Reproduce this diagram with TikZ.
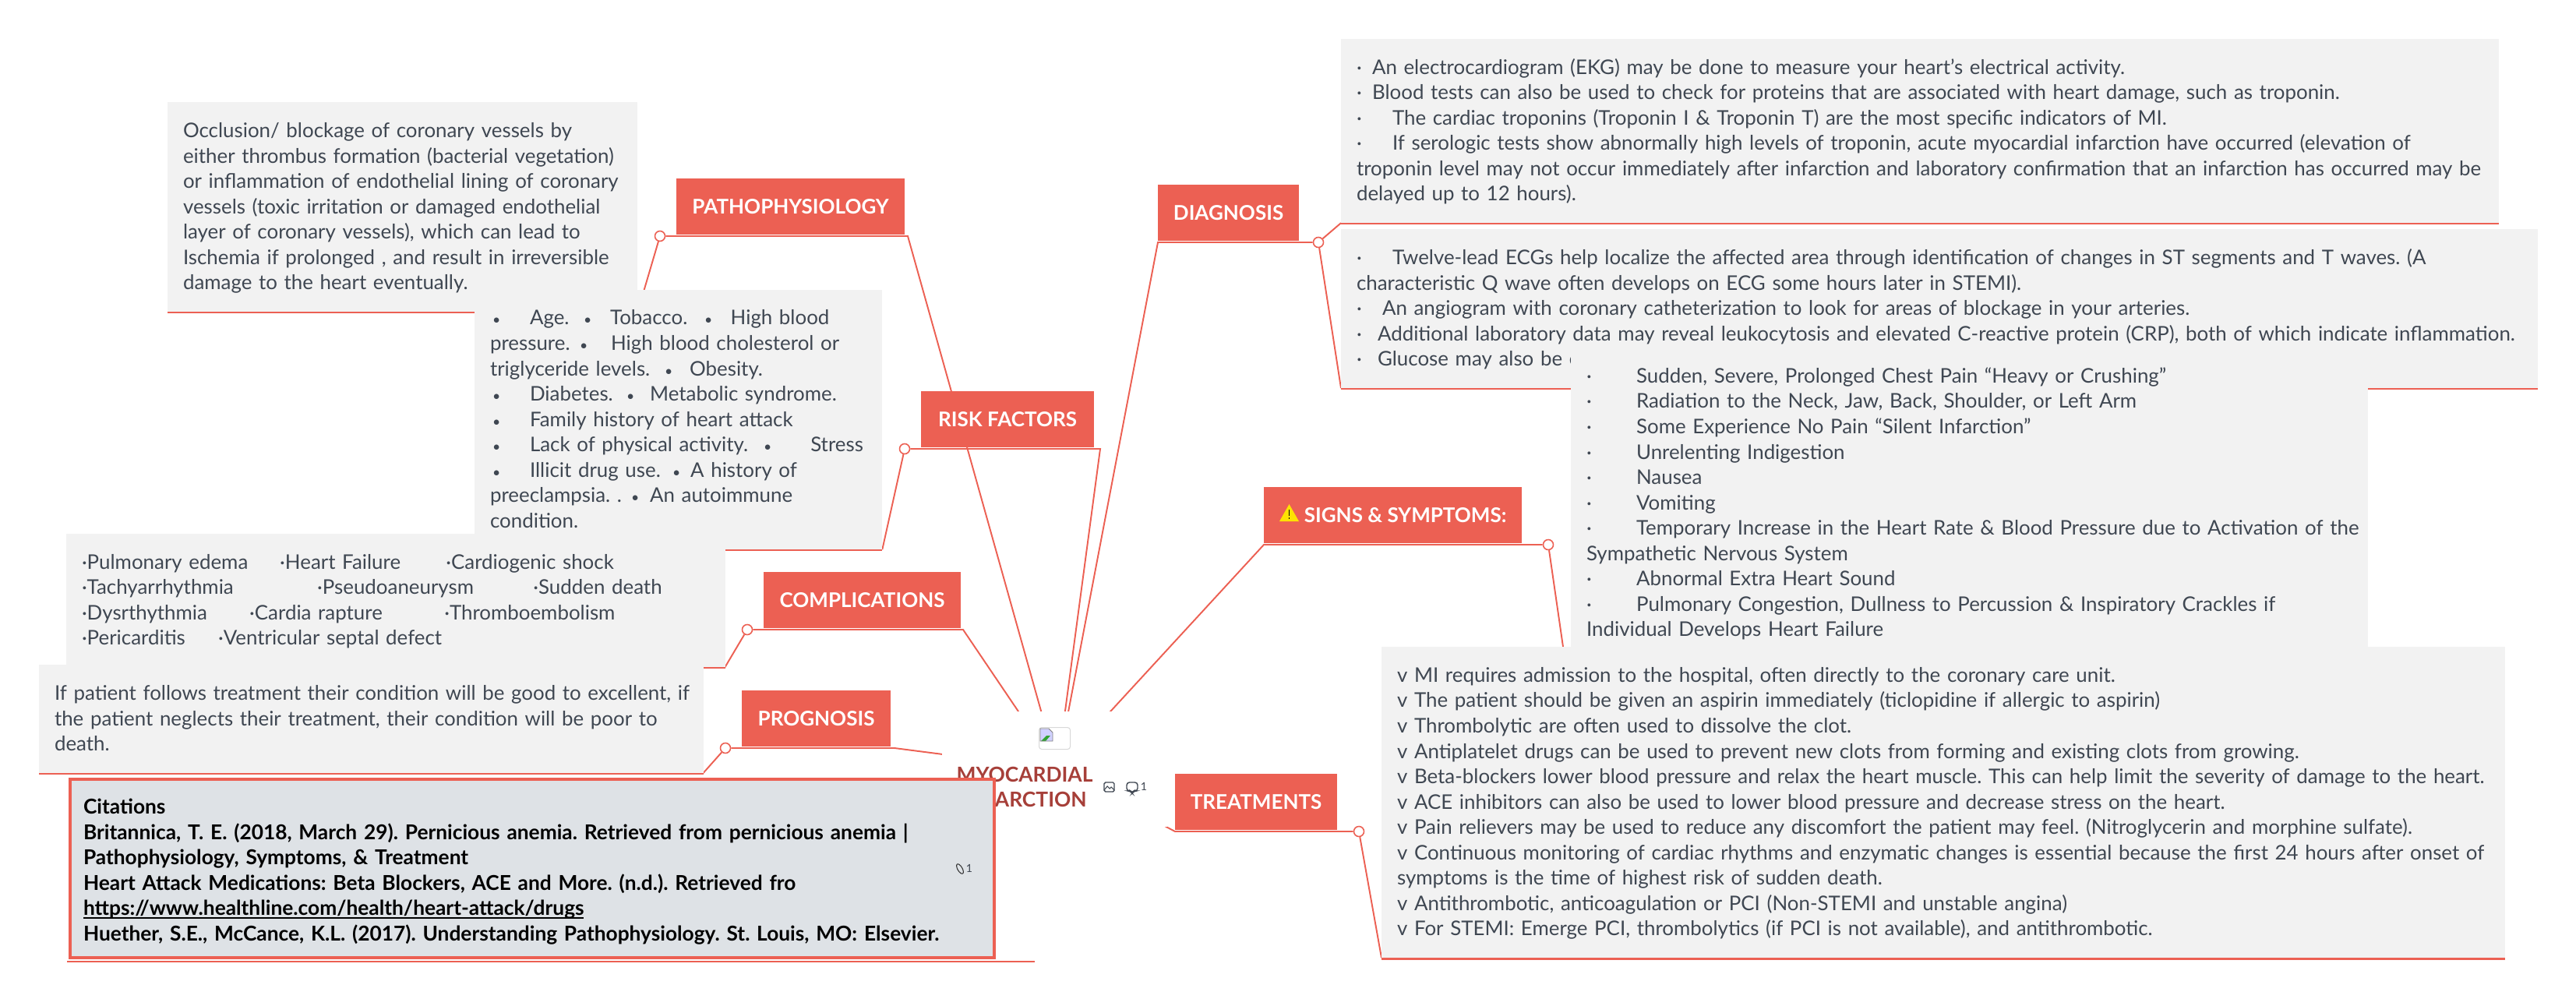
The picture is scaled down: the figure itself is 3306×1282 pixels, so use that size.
\documentclass[tikz,border=0pt]{standalone}
\usepackage{fontspec}
\setmainfont{Lato}
\frenchspacing
\usetikzlibrary{
  positioning,
  backgrounds,
}
\definecolor{coral}{HTML}{EC6053}
\definecolor{wash}{HTML}{F2F2F2}
\definecolor{ink}{HTML}{3F4752}
\definecolor{brick}{HTML}{A63F39}
\definecolor{steel}{HTML}{DEE2E6}
\newcommand{\putat}[2]{\makebox[0pt][l]{\hspace*{#1cm}#2}}
\newcommand{\pip}{{\fontsize{5}{5}\selectfont•}}
\newcommand{\headstrut}{\rule{0pt}{7.6pt}}
\newcommand{\citestrut}{\rule{0pt}{9.3pt}}
\newlength{\linkwidth}
\newcommand{\linktext}[1]{\settowidth{\linkwidth}{#1}\leavevmode\rlap{\rule[-1.3pt]{\linkwidth}{0.55pt}}#1}
\tikzset{
  bodyfont/.style={font=\fontsize{7.36}{9.25}\selectfont},
  textbox/.style 2 args={
    anchor=north west,
    fill=wash,
    text=ink,
    bodyfont,
    align=left,
    inner xsep=0.2cm,
    inner ysep=0,
    outer sep=0,
    minimum width=#1cm,
    minimum height=#2cm,
    text width=#1cm-0.4cm,
    execute at begin node=\headstrut,
    execute at end node=\strut,
  },
  topic/.style 2 args={
    anchor=north west,
    fill=coral,
    text=white,
    font=\fontsize{7.4}{9}\selectfont\bfseries,
    inner sep=0,
    outer sep=0,
    minimum width=#1cm,
    minimum height=#2cm,
  },
  joint/.style={
    circle,
    draw=coral,
    fill=white,
    line width=0.45pt,
    minimum size=0.13cm,
    inner sep=0,
  },
  link/.style={draw=coral, line width=0.55pt},
  under/.style={draw=coral, line width=1.3pt},
  tiny/.style={font=\fontsize{4}{5}\selectfont, text=ink, inner sep=0},
}
\begin{document}
\begin{tikzpicture}[x=0.01cm,y=-0.01cm]
  \useasboundingbox (0,0) rectangle (3306,1282);

  % hub
  \coordinate (hub) at (1357,987);
  \node[fill=white, inner sep=0, outer sep=0, anchor=north west, minimum width=2.89cm, minimum height=1.48cm] (hubback) at (1209,913) {};
  \node[fill=white, draw=gray!30, line width=0.3pt, rounded corners=1pt, anchor=north west, inner sep=0, minimum width=0.40cm, minimum height=0.28cm] (hubimage) at (1333,933) {};
  \fill[blue!18] (1335,935) -- (1346,935) -- (1351,940) -- (1351,951) -- (1335,951) -- cycle;
  \fill[green!55!black!80] (1336,951) -- (1343,944) -- (1348,944) -- (1342,951) -- cycle;
  \draw[gray, line width=0.25pt] (1335,935) -- (1346,935) -- (1351,940) -- (1351,951) -- (1335,951) -- cycle;
  \node[font=\fontsize{7.5}{9.35}\selectfont\bfseries, text=brick, align=center, inner sep=0] (hubtitle) at (1315,1010) {MYOCARDIAL\\INFARCTION};
  \draw[ink, line width=0.4pt, rounded corners=0.5pt] (1417,1004) rectangle (1430,1016);
  \draw[ink, line width=0.3pt] (1417,1014) -- (1421,1009) -- (1424,1012) -- (1426,1010) -- (1430,1014);
  \draw[ink, line width=0.4pt, rounded corners=1pt] (1446,1004) -- (1460,1004) -- (1460,1015) -- (1455,1015) -- (1453,1018) -- (1451,1015) -- (1446,1015) -- cycle;
  \node[tiny] (hubcount) at (1468,1009) {1};

  % pathophysiology
  \node[textbox={6.03}{2.69}] (pathotext) at (215,131) {Occlusion/ blockage of coronary vessels by\\either thrombus formation (bacterial vegetation)\\or inflammation of endothelial lining of coronary\\vessels (toxic irritation or damaged endothelial\\layer of coronary vessels), which can lead to\\Ischemia if prolonged , and result in irreversible\\damage to the heart eventually.};
  \node[topic={2.93}{0.72}] (pathotopic) at (868,229) {PATHOPHYSIOLOGY};
  \node[joint] (pathojoint) at (847,303) {};
  \coordinate (pathoend) at (1165,303);

  % risk factors
  \node[textbox={5.23}{3.33}] (risktext) at (609,372) {%
    \putat{0.03}{\pip}\putat{0.51}{Age.}\putat{1.2}{\pip}\putat{1.54}{Tobacco.}\putat{2.75}{\pip}\putat{3.085}{High blood}\\
    \putat{0}{pressure.}\putat{1.15}{\pip}\putat{1.55}{High blood cholesterol or}\\
    \putat{0}{triglyceride levels.}\putat{2.24}{\pip}\putat{2.56}{Obesity.}\\
    \putat{0.03}{\pip}\putat{0.51}{Diabetes.}\putat{1.75}{\pip}\putat{2.05}{Metabolic syndrome.}\\
    \putat{0.03}{\pip}\putat{0.51}{Family history of heart attack}\\
    \putat{0.03}{\pip}\putat{0.51}{Lack of physical activity.}\putat{3.51}{\pip}\putat{4.11}{Stress}\\
    \putat{0.03}{\pip}\putat{0.51}{Illicit drug use.}\putat{2.34}{\pip}\putat{2.57}{A history of}\\
    \putat{0}{preeclampsia. .}\putat{1.81}{\pip}\putat{2.05}{An autoimmune}\\
    condition.};
  \node[topic={2.22}{0.72}] (risktopic) at (1182,502) {RISK FACTORS};
  \node[joint] (riskjoint) at (1161,576) {};
  \coordinate (riskend) at (1412,576);

  % complications
  \node[textbox={8.45}{1.71}] (comptext) at (85,685) {%
    \putat{0}{·Pulmonary edema}\putat{2.54}{·Heart Failure}\putat{4.67}{·Cardiogenic shock}\\
    \putat{0}{·Tachyarrhythmia}\putat{3.02}{·Pseudoaneurysm}\putat{5.79}{·Sudden death}\\
    \putat{0}{·Dysrthythmia}\putat{2.15}{·Cardia rapture}\putat{4.65}{·Thromboembolism}\\
    \putat{0}{·Pericarditis}\putat{1.75}{·Ventricular septal defect}};
  \node[topic={2.53}{0.72}] (comptopic) at (980,734) {COMPLICATIONS};
  \node[joint] (compjoint) at (959,808) {};
  \coordinate (compend) at (1236,808);

  % prognosis
  \node[textbox={8.52}{1.39}] (progtext) at (50,853) {\putat{0}{If patient follows treatment their condition will be good to excellent, if}\\the patient neglects their treatment, their condition will be poor to\\death.};
  \node[topic={1.91}{0.72}] (progtopic) at (952,886) {PROGNOSIS};
  \node[joint] (progjoint) at (931,960) {};
  \coordinate (progend) at (1148,960);

  % citations
  \node[anchor=north west, fill=steel, draw=coral, line width=1.15pt, text=black, align=left,
    font=\fontsize{7.48}{9.25}\selectfont\bfseries, inner xsep=0.17cm, inner ysep=0, outer sep=0,
    minimum width=11.85cm, minimum height=2.29cm, text width=11.51cm,
    execute at begin node=\citestrut, execute at end node=\strut] (citebox) at (90,1000)
    {Citations\\Britannica, T. E. (2018, March 29). Pernicious anemia. Retrieved from pernicious anemia |\\Pathophysiology, Symptoms, \& Treatment\\Heart Attack Medications: Beta Blockers, ACE and More. (n.d.). Retrieved fro\\\linktext{https://www.healthline.com/health/heart-attack/drugs}\\Huether, S.E., McCance, K.L. (2017). Understanding Pathophysiology. St. Louis, MO: Elsevier.};
  \coordinate (citestart) at (86,1234);
  \coordinate (citeend) at (1328,1234);
  \draw[black!80, line width=0.3pt, rotate around={30:(1232,1115)}] (1232,1115) ellipse (3 and 7);
  \node[tiny] (citecount) at (1244,1114) {1};

  % diagnosis
  \node[textbox={14.85}{2.36}] (diagtext) at (1721,50) {%
    \putat{0}{·}\putat{0.2}{An electrocardiogram (EKG) may be done to measure your heart’s electrical activity.}\\
    \putat{0}{·}\putat{0.2}{Blood tests can also be used to check for proteins that are associated with heart damage, such as troponin.}\\
    \putat{0}{·}\putat{0.46}{The cardiac troponins (Troponin I \& Troponin T) are the most specific indicators of MI.}\\
    \putat{0}{·}\putat{0.46}{If serologic tests show abnormally high levels of troponin, acute myocardial infarction have occurred (elevation of}\\
    \putat{0}{troponin level may not occur immediately after infarction and laboratory confirmation that an infarction has occurred may be}\\
    delayed up to 12 hours).};
  \node[textbox={15.35}{2.04}] (testtext) at (1721,294) {%
    \putat{0}{·}\putat{0.46}{Twelve-lead ECGs help localize the affected area through identification of changes in ST segments and T waves. (A}\\
    \putat{0}{characteristic Q wave often develops on ECG some hours later in STEMI).}\\
    \putat{0}{·}\putat{0.33}{An angiogram with coronary catheterization to look for areas of blockage in your arteries.}\\
    \putat{0}{·}\putat{0.27}{Additional laboratory data may reveal leukocytosis and elevated C-reactive protein (CRP), both of which indicate inflammation.}\\
    \putat{0}{·}\putat{0.27}{Glucose may also be e}};
  \node[topic={1.81}{0.72}] (diagtopic) at (1486,237) {DIAGNOSIS};
  \node[joint] (diagjoint) at (1692,311) {};
  \coordinate (diagend) at (1486,311);

  % signs and symptoms
  \node[textbox={10.22}{4.01}] (signtext) at (2016,445) {%
    \putat{0}{·}\putat{0.64}{Sudden, Severe, Prolonged Chest Pain “Heavy or Crushing”}\\
    \putat{0}{·}\putat{0.64}{Radiation to the Neck, Jaw, Back, Shoulder, or Left Arm}\\
    \putat{0}{·}\putat{0.64}{Some Experience No Pain “Silent Infarction”}\\
    \putat{0}{·}\putat{0.64}{Unrelenting Indigestion}\\
    \putat{0}{·}\putat{0.64}{Nausea}\\
    \putat{0}{·}\putat{0.64}{Vomiting}\\
    \putat{0}{·}\putat{0.64}{Temporary Increase in the Heart Rate \& Blood Pressure due to Activation of the}\\
    Sympathetic Nervous System\\
    \putat{0}{·}\putat{0.64}{Abnormal Extra Heart Sound}\\
    \putat{0}{·}\putat{0.64}{Pulmonary Congestion, Dullness to Percussion \& Inspiratory Crackles if}\\
    Individual Develops Heart Failure};
  \node[topic={3.31}{0.72}] (signtopic) at (1622,625) {\hspace*{0.32cm}SIGNS \& SYMPTOMS:};
  \fill[yellow!85!orange] (1642,669) -- (1654.5,647) -- (1667,669) -- cycle;
  \draw[black, line width=0.5pt] (1654.5,654) -- (1654.5,662) (1654.5,664) -- (1654.5,666);
  \node[joint] (signjoint) at (1987,699) {};
  \coordinate (signend) at (1622,699);
  \coordinate (signfoot) at (2016,899);

  % treatments
  \node[textbox={14.41}{3.99}] (treattext) at (1773,830) {%
    v MI requires admission to the hospital, often directly to the coronary care unit.\\
    v The patient should be given an aspirin immediately (ticlopidine if allergic to aspirin)\\
    v Thrombolytic are often used to dissolve the clot.\\
    v Antiplatelet drugs can be used to prevent new clots from forming and existing clots from growing.\\
    v Beta-blockers lower blood pressure and relax the heart muscle. This can help limit the severity of damage to the heart.\\
    v ACE inhibitors can also be used to lower blood pressure and decrease stress on the heart.\\
    v Pain relievers may be used to reduce any discomfort the patient may feel. (Nitroglycerin and morphine sulfate).\\
    v Continuous monitoring of cardiac rhythms and enzymatic changes is essential because the first 24 hours after onset of\\
    symptoms is the time of highest risk of sudden death.\\
    v Antithrombotic, anticoagulation or PCI (Non-STEMI and unstable angina)\\
    v For STEMI: Emerge PCI, thrombolytics (if PCI is not available), and antithrombotic.};
  \node[topic={2.08}{0.72}] (treattopic) at (1508,993) {TREATMENTS};
  \node[joint] (treatjoint) at (1744,1067) {};
  \coordinate (treatend) at (1508,1067);

  % connectors sit under everything
  \begin{scope}[on background layer]
    \draw[link] (pathotext.south east) -- (pathojoint) -- (pathoend) -- (hub);
    \draw[link] (risktext.south east) -- (riskjoint) -- (riskend) -- (hub);
    \draw[link] (comptext.south east) -- (compjoint) -- (compend) -- (hub);
    \draw[link] (progtext.south east) -- (progjoint) -- (progend) -- (hub);
    \draw[link] (diagtext.south west) -- (diagjoint) -- (diagend) -- (hub);
    \draw[link] (testtext.south west) -- (diagjoint);
    \draw[link] (signfoot) -- (signjoint) -- (signend) -- (hub);
    \draw[link] (treattext.south west) -- (treatjoint) -- (treatend) -- (hub);
    \draw[under] (pathotext.south west) -- (pathotext.south east);
    \draw[under] (risktext.south west) -- (risktext.south east);
    \draw[under] (comptext.south west) -- (comptext.south east);
    \draw[under] (progtext.south west) -- (progtext.south east);
    \draw[under] (diagtext.south west) -- (diagtext.south east);
    \draw[under] (testtext.south west) -- (testtext.south east);
    \draw[under] (treattext.south west) -- (treattext.south east);
    \draw[link, line width=0.75pt] (citestart) -- (citeend);
  \end{scope}
\end{tikzpicture}
\end{document}
